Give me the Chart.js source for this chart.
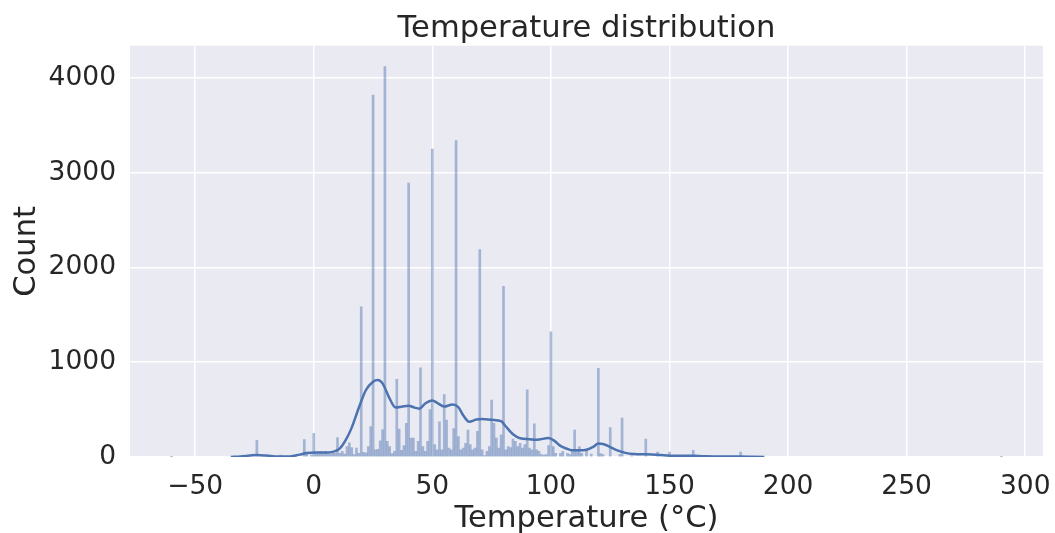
<!DOCTYPE html>
<html>
<head>
<meta charset="utf-8">
<script src="https://cdn.jsdelivr.net/npm/chart.js@4.4.1/dist/chart.umd.min.js"></script>
<style>
  html, body { margin: 0; padding: 0; background: #ffffff; }
  #wrap { width: 1055px; height: 533px; position: relative; }
</style>
</head>
<body>
<div id="wrap"><canvas id="chart"></canvas></div>
<script>
// histogram bins (1 °C wide, only non-empty bins listed)
const binTemps = [-60, -24, -14, -4, -3, -1, 0, 1, 2, 3, 4, 5, 6, 7, 8, 9, 10, 11, 12, 13, 14, 15, 16, 17, 18, 19,
    20, 21, 22, 23, 24, 25, 26, 27, 28, 29, 30, 31, 32, 33, 34, 35, 36, 37, 38, 39,
    40, 41, 42, 43, 44, 45, 46, 47, 48, 49, 50, 51, 52, 53, 54, 55, 56, 57, 58, 59,
    60, 61, 62, 63, 64, 65, 66, 67, 68, 69, 70, 71, 72, 73, 74, 75, 76, 77, 78, 79,
    80, 81, 82, 83, 84, 85, 86, 87, 88, 89, 90, 91, 92, 93, 94, 95, 96, 97, 98, 99,
    100, 101, 102, 104, 105, 107, 108, 109, 110, 111, 112, 113, 115, 117,
    120, 121, 122, 125, 129, 130, 134, 140, 145, 150, 155, 160, 180, 290];
const binCounts = [3, 175, 20, 185, 35, 20, 250, 45, 30, 60, 35, 60, 45, 30, 50, 40, 205, 40, 60, 30, 110, 150, 100, 25, 95, 40,
    1585, 50, 45, 110, 320, 3820, 75, 80, 170, 290, 4120, 165, 110, 35, 60, 820, 295, 70, 120, 355,
    2890, 200, 200, 60, 165, 940, 110, 60, 165, 500, 3250, 130, 75, 370, 75, 660, 390, 95, 75, 300,
    3340, 215, 75, 95, 145, 285, 130, 75, 95, 270, 2190, 75, 15, 60, 110, 600, 355, 200, 95, 235,
    1800, 75, 110, 100, 190, 165, 110, 145, 95, 130, 710, 95, 75, 350, 75, 60, 25, 20, 25, 120,
    1320, 110, 40, 40, 60, 40, 25, 60, 285, 60, 110, 40, 75, 30,
    935, 35, 25, 310, 25, 410, 15, 190, 52, 52, 10, 70, 52, 3];

// kde curve (scaled to counts)
const kdeTemps = [-35, -31, -27, -24, -20, -15, -10, -6, -3, 1, 6, 9, 11, 13.5, 16, 19, 22, 25, 27, 29, 32, 34.5, 37, 40,
    42.5, 44.5, 47, 50, 52, 55, 58.5, 61, 63, 65.5, 68.5, 71, 75, 79, 81, 84, 87, 91, 94, 99, 101.5, 104, 107, 109,
    112, 115, 118, 120, 122, 125, 128, 131, 135, 140, 146, 150, 155, 160, 165, 170, 175, 180, 185, 190];
const kdeCounts = [1, 6, 15, 21, 15, 5, 6, 25, 42, 48, 48, 62, 90, 180, 310, 520, 707, 795, 812, 777, 615, 522, 530, 542,
    521, 510, 565, 597, 572, 532, 555, 525, 440, 372, 395, 402, 393, 378, 322, 240, 198, 188, 182, 200, 170, 117, 85, 70,
    70, 77, 110, 142, 138, 105, 70, 46, 31, 28, 21, 14, 14, 12, 7, 5, 4, 4, 2, 0];

const xTicks = [-50, 0, 50, 100, 150, 200, 250, 300];
const yTicks = [0, 1000, 2000, 3000, 4000];

const FONT = "'DejaVu Sans', sans-serif";
const TEXT = '#262626';

// grey panel behind the plot
const panelBg = {
    id: 'panelBg',
    beforeDraw(chart) {
        const a = chart.chartArea;
        const ctx = chart.ctx;
        ctx.save();
        ctx.fillStyle = '#eaeaf2';
        ctx.fillRect(a.left, a.top, a.right - a.left, a.bottom - a.top);
        ctx.restore();
    }
};

new Chart(document.getElementById('chart'), {
    data: {
        datasets: [
            {
                type: 'line',
                label: 'kde',
                data: kdeTemps.map((t, i) => ({ x: t, y: kdeCounts[i] })),
                borderColor: '#4c72b0',
                borderWidth: 2.5,
                pointRadius: 0,
                cubicInterpolationMode: 'monotone',
                order: 0
            },
            {
                type: 'bar',
                label: 'count',
                data: binTemps.map((t, i) => ({ x: t, y: binCounts[i] })),
                backgroundColor: 'rgba(76, 114, 176, 0.45)',
                borderWidth: 0,
                barThickness: 2,
                order: 1
            }
        ]
    },
    options: {
        responsive: true,
        maintainAspectRatio: false,
        animation: false,
        layout: { padding: { left: 0, right: 12, top: 0, bottom: 0 } },
        plugins: {
            legend: { display: false },
            tooltip: { enabled: false },
            title: {
                display: true,
                text: 'Temperature distribution',
                color: TEXT,
                fullSize: false,
                font: { family: FONT, size: 30.6, weight: 'normal' },
                padding: { top: 11, bottom: -2 }
            }
        },
        scales: {
            x: {
                type: 'linear',
                min: -77.5,
                max: 307.5,
                offset: false,
                afterBuildTicks: s => { s.ticks = xTicks.map(v => ({ value: v })); },
                afterFit: s => { s.height = 76; s.paddingLeft = 0; s.paddingRight = 0; },
                ticks: {
                    color: TEXT,
                    font: { family: FONT, size: 26.5 },
                    padding: 14,
                    maxRotation: 0,
                    callback: v => String(v).replace('-', '\u2212')
                },
                grid: { color: '#ffffff', lineWidth: 1.5, drawTicks: false, offset: false },
                border: { display: false },
                title: {
                    display: true,
                    text: 'Temperature (°C)',
                    color: TEXT,
                    font: { family: FONT, size: 30.6 },
                    padding: { top: 0, bottom: -4 }
                }
            },
            y: {
                type: 'linear',
                min: 0,
                max: 4340,
                afterBuildTicks: s => { s.ticks = yTicks.map(v => ({ value: v })); },
                afterFit: s => { s.width = 130; },
                ticks: {
                    color: TEXT,
                    font: { family: FONT, size: 26.5 },
                    padding: 14,
                    callback: v => String(v)
                },
                grid: { color: '#ffffff', lineWidth: 1.5, drawTicks: false },
                border: { display: false },
                title: {
                    display: true,
                    text: 'Count',
                    color: TEXT,
                    font: { family: FONT, size: 30.6 },
                    padding: { top: 9, bottom: 0 }
                }
            }
        }
    },
    plugins: [panelBg]
});
</script>
</body>
</html>
